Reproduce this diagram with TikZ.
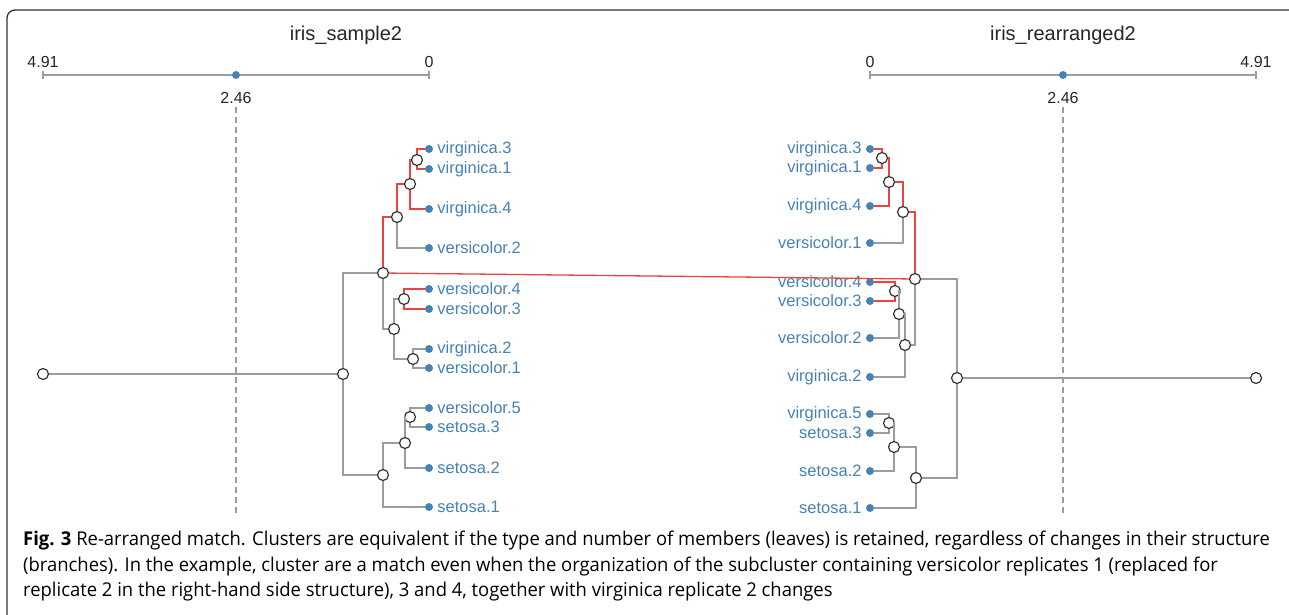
\documentclass[tikz,border=0pt]{standalone}
\usepackage{fontspec}
\setmainfont{Liberation Sans}
\newfontfamily\capfont[FakeStretch=0.97]{Open Sans}
\definecolor{leafblue}{HTML}{4682B4}
\definecolor{branchgray}{HTML}{9C9C9C}
\definecolor{matchred}{HTML}{E8453F}
\definecolor{ringgray}{HTML}{333333}

\begin{document}
\begin{tikzpicture}[
    x=1pt, y=-1pt,
    leaf/.style={circle, fill=leafblue, inner sep=0pt, minimum size=8pt},
    lname/.style={text=leafblue, font=\fontsize{16.5}{18}\selectfont, inner sep=0pt},
    joint/.style={circle, draw=ringgray, fill=white, line width=1.2pt, inner sep=0pt, minimum size=11pt},
    branch/.style={draw=branchgray, line width=1.3pt},
    match/.style={draw=matchred, line width=1.3pt},
    axis/.style={draw=branchgray, line width=1.5pt},
    guide/.style={draw=branchgray, line width=1.2pt, dash pattern=on 6pt off 4pt},
    ticklbl/.style={font=\fontsize{16}{18}\selectfont, text=black!85, inner sep=0pt},
    title/.style={font=\fontsize{20}{24}\selectfont, text=black!85, inner sep=0pt}
]
\useasboundingbox (0,0) rectangle (1289,615);

% Frame
\draw[ringgray, line width=1.3pt, rounded corners=8pt] (7,615) -- (7,10) -- (1289,10);

% Left axis
\node[title] (ltitle) at (346,35) {iris\_sample2};
\coordinate (lax0) at (43,75);
\coordinate (lax1) at (429,75);
\draw[axis] (lax0) -- (lax1);
\draw[axis] ([yshift=-4pt]lax0) -- ([yshift=4pt]lax0);
\draw[axis] ([yshift=-4pt]lax1) -- ([yshift=4pt]lax1);
\node[ticklbl] (lmax) at (43,62) {4.91};
\node[ticklbl] (lzero) at (429,62) {0};
\node[leaf] (lmid) at (236,75) {};
\node[ticklbl] (lmidlbl) at (236,98) {2.46};
\coordinate (lcut) at (236,515);
\draw[guide] (lmidlbl.south) ++(0,3) -- (lcut);

% Right axis
\node[title] (rtitle) at (1063,35) {iris\_rearranged2};
\coordinate (rax0) at (870,75);
\coordinate (rax1) at (1256,75);
\draw[axis] (rax0) -- (rax1);
\draw[axis] ([yshift=-4pt]rax0) -- ([yshift=4pt]rax0);
\draw[axis] ([yshift=-4pt]rax1) -- ([yshift=4pt]rax1);
\node[ticklbl] (rzero) at (870,62) {0};
\node[ticklbl] (rmax) at (1256,62) {4.91};
\node[leaf] (rmid) at (1063,75) {};
\node[ticklbl] (rmidlbl) at (1063,98) {2.46};
\coordinate (rcut) at (1063,515);
\draw[guide] (rmidlbl.south) ++(0,3) -- (rcut);

% Left tree: leaves
\node[leaf, label={[lname, label distance=4pt]right:virginica.3}] (lv3) at (429,149) {};
\node[leaf, label={[lname, label distance=4pt]right:virginica.1}] (lv1) at (429,169) {};
\node[leaf, label={[lname, label distance=4pt]right:virginica.4}] (lv4) at (429,209) {};
\node[leaf, label={[lname, label distance=4pt]right:versicolor.2}] (lc2) at (429,248) {};
\node[leaf, label={[lname, label distance=4pt]right:versicolor.4}] (lc4) at (429,289) {};
\node[leaf, label={[lname, label distance=4pt]right:versicolor.3}] (lc3) at (429,309) {};
\node[leaf, label={[lname, label distance=4pt]right:virginica.2}] (lv2) at (429,349) {};
\node[leaf, label={[lname, label distance=4pt]right:versicolor.1}] (lc1) at (429,368) {};
\node[leaf, label={[lname, label distance=4pt]right:versicolor.5}] (lc5) at (429,408) {};
\node[leaf, label={[lname, label distance=4pt]right:setosa.3}] (ls3) at (429,427) {};
\node[leaf, label={[lname, label distance=4pt]right:setosa.2}] (ls2) at (429,468) {};
\node[leaf, label={[lname, label distance=4pt]right:setosa.1}] (ls1) at (429,507) {};

% Left tree: joints
\node[joint] (lj31) at (417,160) {};
\node[joint] (lj314) at (410,184) {};
\node[joint] (ljA) at (397,217) {};
\node[joint] (ljtop) at (383,273) {};
\node[joint] (lj43) at (404,299) {};
\node[joint] (lj21) at (413,359) {};
\node[joint] (ljB) at (394,329) {};
\node[joint] (lj53) at (410,417) {};
\node[joint] (lj532) at (405,443) {};
\node[joint] (ljset) at (383,475) {};
\node[joint] (lroot) at (343,374) {};
\node[joint] (lstart) at (43,374) {};

% Left tree: branches
\draw[match] (lj31) |- (lv3);
\draw[match] (lj31) |- (lv1);
\draw[match] (lj314) |- (lj31);
\draw[match] (lj314) |- (lv4);
\draw[match] (ljA) |- (lj314);
\draw[branch] (ljA) |- (lc2);
\draw[match] (ljtop) |- (ljA);
\draw[branch] (ljtop) |- (ljB);
\draw[match] (lj43) |- (lc4);
\draw[match] (lj43) |- (lc3);
\draw[branch] (ljB) |- (lj43);
\draw[branch] (ljB) |- (lj21);
\draw[branch] (lj21) |- (lv2);
\draw[branch] (lj21) |- (lc1);
\draw[branch] (lj53) |- (lc5);
\draw[branch] (lj53) |- (ls3);
\draw[branch] (lj532) |- (lj53);
\draw[branch] (lj532) |- (ls2);
\draw[branch] (ljset) |- (lj532);
\draw[branch] (ljset) |- (ls1);
\draw[branch] (lroot) |- (ljtop);
\draw[branch] (lroot) |- (ljset);
\draw[branch] (lstart) -- (lroot);

% Right tree: leaves
\node[leaf, label={[lname, label distance=4pt]left:virginica.3}] (rv3) at (870,149) {};
\node[leaf, label={[lname, label distance=4pt]left:virginica.1}] (rv1) at (870,168) {};
\node[leaf, label={[lname, label distance=4pt]left:virginica.4}] (rv4) at (870,206) {};
\node[leaf, label={[lname, label distance=4pt]left:versicolor.1}] (rc1) at (870,243) {};
\node[leaf, label={[lname, label distance=4pt]left:versicolor.4}] (rc4) at (870,282) {};
\node[leaf, label={[lname, label distance=4pt]left:versicolor.3}] (rc3) at (870,301) {};
\node[leaf, label={[lname, label distance=4pt]left:versicolor.2}] (rc2) at (870,338) {};
\node[leaf, label={[lname, label distance=4pt]left:virginica.2}] (rv2) at (870,377) {};
\node[leaf, label={[lname, label distance=4pt]left:virginica.5}] (rv5) at (870,414) {};
\node[leaf, label={[lname, label distance=4pt]left:setosa.3}] (rs3) at (870,433) {};
\node[leaf, label={[lname, label distance=4pt]left:setosa.2}] (rs2) at (870,471) {};
\node[leaf, label={[lname, label distance=4pt]left:setosa.1}] (rs1) at (870,508) {};

% Right tree: joints
\node[joint] (rj31) at (882,158) {};
\node[joint] (rj314) at (889,182) {};
\node[joint] (rjA) at (903,212) {};
\node[joint] (rjtop) at (915,279) {};
\node[joint] (rj43) at (895,291) {};
\node[joint] (rj432) at (899,314) {};
\node[joint] (rjB) at (905,345) {};
\node[joint] (rj53) at (889,423) {};
\node[joint] (rj532) at (894,447) {};
\node[joint] (rjset) at (916,478) {};
\node[joint] (rroot) at (957,378) {};
\node[joint] (rstart) at (1256,378) {};

% Right tree: branches
\draw[match] (rj31) |- (rv3);
\draw[match] (rj31) |- (rv1);
\draw[match] (rj314) |- (rj31);
\draw[match] (rj314) |- (rv4);
\draw[match] (rjA) |- (rj314);
\draw[branch] (rjA) |- (rc1);
\draw[match] (rjtop) |- (rjA);
\draw[branch] (rjtop) |- (rjB);
\draw[match] (rj43) |- (rc4);
\draw[match] (rj43) |- (rc3);
\draw[branch] (rj432) |- (rj43);
\draw[branch] (rj432) |- (rc2);
\draw[branch] (rjB) |- (rj432);
\draw[branch] (rjB) |- (rv2);
\draw[branch] (rj53) |- (rv5);
\draw[branch] (rj53) |- (rs3);
\draw[branch] (rj532) |- (rj53);
\draw[branch] (rj532) |- (rs2);
\draw[branch] (rjset) |- (rj532);
\draw[branch] (rjset) |- (rs1);
\draw[branch] (rroot) |- (rjtop);
\draw[branch] (rroot) |- (rjset);
\draw[branch] (rstart) -- (rroot);

% Matched cluster
\draw[match] (ljtop) -- (rjtop);

% Caption
\node[anchor=north west, align=left, inner sep=0pt, font=\capfont\fontsize{19}{25.5}\selectfont] (caption) at (23,531)
  {\textbf{Fig. 3} Re-arranged match. Clusters are equivalent if the type and number of members (leaves) is retained, regardless of changes in their structure\\
   (branches). In the example, cluster are a match even when the organization of the subcluster containing versicolor replicates 1 (replaced for\\
   replicate 2 in the right-hand side structure), 3 and 4, together with virginica replicate 2 changes};

\end{tikzpicture}
\end{document}
